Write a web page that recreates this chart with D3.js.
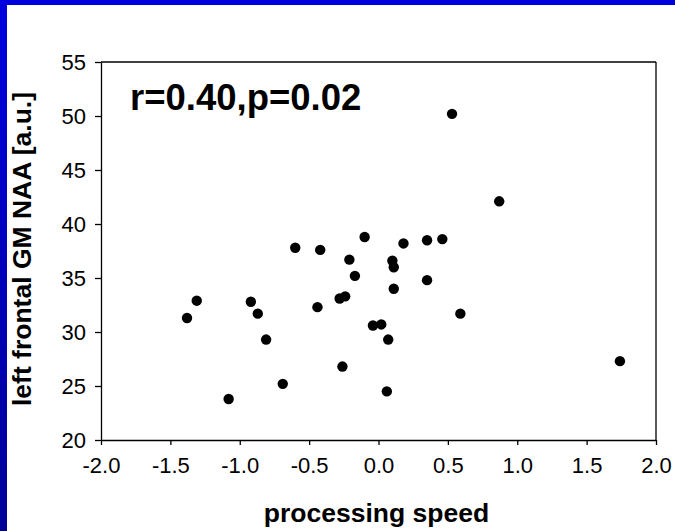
<!DOCTYPE html>
<html>
<head>
<meta charset="utf-8">
<script src="https://d3js.org/d3.v7.min.js"></script>
<style>
  body { margin: 0; background: #fff; }
  svg { display: block; }
  .axis text { font-family: "Liberation Sans", Arial, sans-serif; font-size: 22px; fill: #000; }
  .axis path, .axis line { stroke: #000; stroke-width: 1.3; }
</style>
</head>
<body>
<script>
// processing speed (x) vs left frontal GM NAA (y), one value per subject
let speed = [-1.38, -1.31, -1.08, -0.92, -0.87, -0.81, -0.69, -0.60, -0.44, -0.42,
  -0.28, -0.24, -0.26, -0.21, -0.17, -0.10, -0.04, 0.02, 0.07, 0.06,
  0.10, 0.11, 0.11, 0.18, 0.35, 0.35, 0.46, 0.53, 0.59, 0.87, 1.74];
let naa = [31.3, 32.9, 23.8, 32.8, 31.7, 29.3, 25.2, 37.8, 32.3, 37.6,
  33.1, 33.3, 26.8, 36.7, 35.2, 38.8, 30.6, 30.7, 29.3, 24.5,
  36.6, 36.0, 34.0, 38.2, 38.5, 34.8, 38.6, 50.2, 31.7, 42.1, 27.3];
let xTicks = [-2.0, -1.5, -1.0, -0.5, 0.0, 0.5, 1.0, 1.5, 2.0];
let yTicks = [20, 25, 30, 35, 40, 45, 50, 55];
let statLabel = "r=0.40,p=0.02";

let width = 675,
  height = 531,
  plotLeft = 101, plotRight = 656,
  plotTop = 62, plotBottom = 440;

let svg = d3.select("body").append("svg")
  .attr("width", width)
  .attr("height", height);

// blue frame of the slide
let defs = svg.append("defs");
let grad = defs.append("linearGradient")
  .attr("id", "frame")
  .attr("x1", 0).attr("y1", 0).attr("x2", 0).attr("y2", 1);
grad.append("stop").attr("offset", "0%").attr("stop-color", "#0000e0");
grad.append("stop").attr("offset", "100%").attr("stop-color", "#000098");

svg.append("rect").attr("x", 0).attr("y", 0).attr("width", width).attr("height", 5).attr("fill", "#0000dc");
svg.append("rect").attr("x", 0).attr("y", 0).attr("width", 7).attr("height", height).attr("fill", "url(#frame)");

let x = d3.scaleLinear().domain([-2, 2]).range([plotLeft, plotRight]);
let y = d3.scaleLinear().domain([20, 55]).range([plotBottom, plotTop]);

svg.append("g")
  .attr("class", "axis")
  .attr("transform", `translate(0, ${plotBottom})`)
  .call(d3.axisBottom(x).tickValues(xTicks)
    .tickFormat(d => d3.format(".1f")(d).replace("−", "-"))
    .tickSize(5).tickSizeOuter(0).tickPadding(12));

svg.append("g")
  .attr("class", "axis")
  .attr("transform", `translate(${plotLeft}, 0)`)
  .call(d3.axisLeft(y).tickValues(yTicks).tickFormat(d3.format("d"))
    .tickSize(6).tickSizeOuter(0).tickPadding(9));

// box: top and right edges
svg.append("line")
  .attr("x1", plotLeft).attr("x2", plotRight).attr("y1", plotTop).attr("y2", plotTop)
  .attr("stroke", "#000").attr("stroke-width", 1.3);
svg.append("line")
  .attr("x1", plotRight).attr("x2", plotRight).attr("y1", plotTop).attr("y2", plotBottom)
  .attr("stroke", "#000").attr("stroke-width", 1.3);

svg.append("g")
  .selectAll("circle")
  .data(d3.range(speed.length))
  .enter().append("circle")
  .attr("cx", i => x(speed[i]))
  .attr("cy", i => y(naa[i]))
  .attr("r", 5.2)
  .attr("fill", "#000");

svg.append("text")
  .text(statLabel)
  .attr("x", 130)
  .attr("y", 110)
  .attr("font-family", "Liberation Sans, Arial, sans-serif")
  .attr("font-weight", "bold")
  .attr("font-size", "36.5px");

svg.append("text")
  .text("processing speed")
  .attr("x", (plotLeft + plotRight) / 2 - 2)
  .attr("y", 522)
  .attr("text-anchor", "middle")
  .attr("font-family", "Liberation Sans, Arial, sans-serif")
  .attr("font-weight", "bold")
  .attr("font-size", "26.5px");

svg.append("text")
  .text("left frontal GM NAA [a.u.]")
  .attr("transform", `translate(31, ${(plotTop + plotBottom) / 2 - 2}) rotate(-90)`)
  .attr("text-anchor", "middle")
  .attr("font-family", "Liberation Sans, Arial, sans-serif")
  .attr("font-weight", "bold")
  .attr("font-size", "26.5px");
</script>
</body>
</html>
